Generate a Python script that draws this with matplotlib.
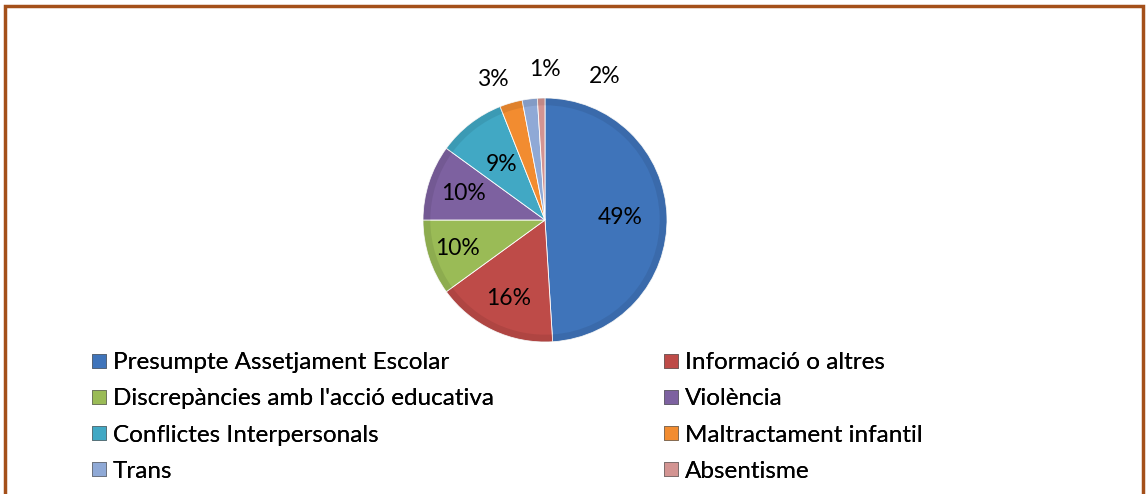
import matplotlib
matplotlib.use("Agg")
import matplotlib.pyplot as plt
import numpy as np
from matplotlib.lines import Line2D
from matplotlib.patches import Rectangle, Wedge

plt.rcParams["font.family"] = ["Lato", "DejaVu Sans"]

categories = [
    "Presumpte Assetjament Escolar",
    "Informació o altres",
    "Discrepàncies amb l'acció educativa",
    "Violència",
    "Conflictes Interpersonals",
    "Maltractament infantil",
    "Trans",
    "Absentisme",
]
shares = [49, 16, 10, 10, 9, 3, 2, 1]
pct_labels = ["49%", "16%", "10%", "10%", "9%", "3%", "1%", "2%"]
colors = ["#3F74BA", "#BE4B48", "#9ABB56", "#7D61A0", "#41A8C4",
          "#F28C30", "#8FA9D6", "#D39492"]

W, H = 1147, 494
fig = plt.figure(figsize=(W / 100, H / 100), dpi=100, facecolor="white")

# brown frame (bottom edge is cut off in the original)
fig.patches.append(Rectangle((5 / W, -0.05), (1143 - 5) / W, (H - 6) / H + 0.05,
                             transform=fig.transFigure, fill=False,
                             edgecolor="#A4501A", linewidth=2.5))

cx, cy, r = 545, 220, 122
ax = fig.add_axes([(cx - r) / W, (H - cy - r) / H, 2 * r / W, 2 * r / H])
wedges, _ = ax.pie(shares, colors=colors, startangle=90, counterclock=False,
                   wedgeprops=dict(edgecolor="white", linewidth=0.6))
ax.set_xlim(-1, 1)
ax.set_ylim(-1, 1)
ax.set_aspect("equal")
ax.axis("off")

# soft darker rim to hint at the bevel effect
for w in wedges:
    ax.add_patch(Wedge((0, 0), 1.0, w.theta1, w.theta2, width=0.06,
                       facecolor="black", alpha=0.08, linewidth=0))

inside_r = [0.62, 0.71, 0.75, 0.70, 0.58]
outside_pos = {5: (-0.43, 1.15), 6: (0.0, 1.23), 7: (0.49, 1.18)}
for i, (w, lab) in enumerate(zip(wedges, pct_labels)):
    if i in outside_pos:
        x, y = outside_pos[i]
    else:
        ang = np.deg2rad(0.5 * (w.theta1 + w.theta2))
        x, y = inside_r[i] * np.cos(ang), inside_r[i] * np.sin(ang)
    ax.text(x, y, lab, ha="center", va="center", fontsize=16.5,
            color="black", clip_on=False)

handles = [Line2D([], [], marker="s", linestyle="none", markersize=10.5,
                  markerfacecolor=c, markeredgecolor="#555555",
                  markeredgewidth=0.4) for c in colors]

# legend filled row by row: two columns, each its own legend
for col, x0 in enumerate([90, 662]):
    idx = list(range(col, len(categories), 2))
    leg = fig.legend([handles[i] for i in idx], [categories[i] for i in idx],
                     loc="upper left", bbox_to_anchor=(x0 / W, 1 - 352 / H),
                     frameon=False, fontsize=17.5, handlelength=0.7,
                     handletextpad=0.25, labelspacing=0.63, borderaxespad=0,
                     borderpad=0)
    fig.add_artist(leg)

fig.savefig("out.png", dpi=100, facecolor="white")
